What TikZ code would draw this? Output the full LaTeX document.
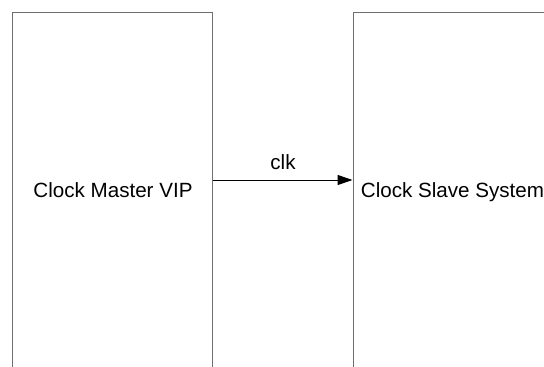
\documentclass[tikz,border=0pt]{standalone}
\usepackage{fontspec}
\setmainfont{Liberation Sans}
\usetikzlibrary{arrows.meta}
\definecolor{boxline}{HTML}{6E6E6E}
\tikzset{
  blockbox/.style={draw=boxline, line width=1pt, minimum width=200pt, minimum height=400pt, inner sep=0pt},
  blocklabel/.style={font=\fontsize{20.6pt}{24pt}\selectfont, anchor=base, inner sep=0pt},
  sigarrow/.style={draw=black, line width=1pt, -{Triangle[length=15pt,width=10pt]}},
  siglabel/.style={font=\fontsize{20.6pt}{24pt}\selectfont, anchor=base, inner sep=0pt}
}
\begin{document}
\begin{tikzpicture}[x=1pt, y=-1pt]
  \clip (0,0) rectangle (544,367);
  \useasboundingbox (0,0) rectangle (544,367);
  \fill[white] (0,0) rectangle (544,367);
  % the two blocks, running past the lower edge
  \node[blockbox] (master) at (112.5,212) {};
  \node[blockbox] (slave) at (453,212) {};
  \node[blocklabel] (mastertext) at (113,197) {Clock Master VIP};
  \node[blocklabel] (slavetext) at (452.5,197) {Clock Slave System};
  % clock signal
  \coordinate (clkfrom) at (master.east |- 0,180);
  \coordinate (clkto) at (slave.west |- 0,180);
  \draw[sigarrow] (clkfrom) -- (clkto);
  \node[siglabel] (clklabel) at (283,169) {clk};
\end{tikzpicture}
\end{document}
